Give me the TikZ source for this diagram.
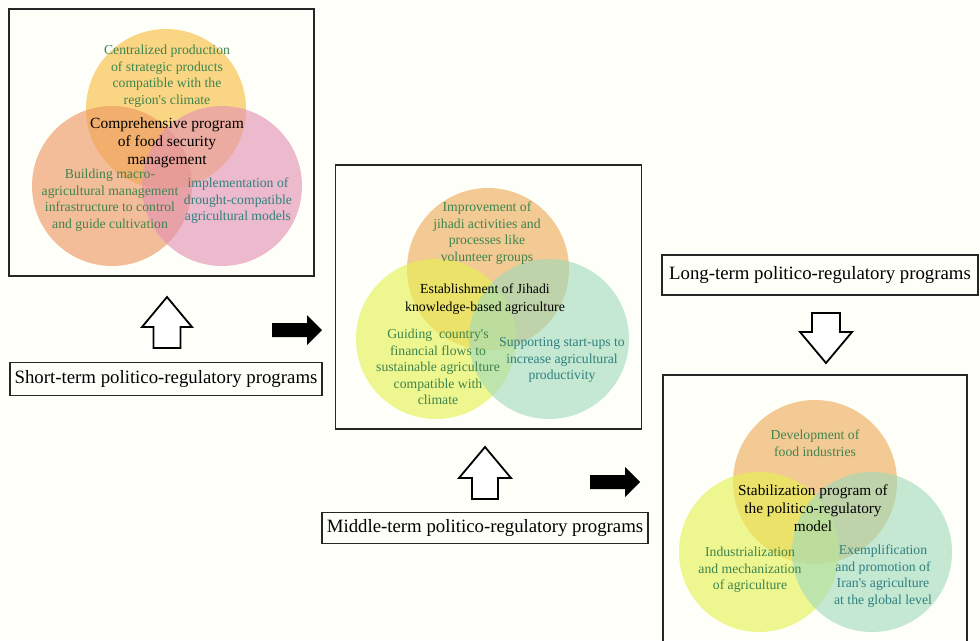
\documentclass[tikz,border=0pt]{standalone}
\usepackage{fontspec}
\setmainfont{Liberation Serif}
\newcommand{\apos}{\textquotesingle}
\begin{document}
\begin{tikzpicture}[x=1pt,y=-1pt,
  every node/.style={inner sep=0pt, outer sep=0pt},
  panelbox/.style={draw=black!85, line width=1.4pt},
  labelbox/.style={draw=black!85, line width=1.1pt, font=\fontsize{18.8}{22}\selectfont},
  venntext/.style={align=center, text=leafgreen, font=\fontsize{13.7}{16.5}\selectfont},
  venntealtext/.style={venntext, text=tealtext},
  corettext/.style={align=center, text=black, font=\fontsize{#1}{18}\selectfont},
  blob/.style={fill=#1, fill opacity=0.62},
  hollowarrow/.style={draw=black, line width=1.8pt, fill=white, line join=miter},
  solidarrow/.style={fill=black}
]
\definecolor{leafgreen}{RGB}{62,132,78}
\definecolor{tealtext}{RGB}{48,128,128}
\definecolor{sunyellow}{RGB}{247,190,60}
\definecolor{salmon}{RGB}{238,150,95}
\definecolor{rosepink}{RGB}{226,145,178}
\definecolor{peach}{RGB}{236,170,85}
\definecolor{limeyellow}{RGB}{229,242,80}
\definecolor{seafoam}{RGB}{160,218,186}

\useasboundingbox (0,0) rectangle (980,640);
\fill[white!98!yellow] (0,0) rectangle (980,640);

% ---- short-term panel ----
\node[panelbox, minimum width=305pt, minimum height=267pt] (shortpanel) at (161.5,142.5) {};
\fill[blob=sunyellow] (166,109) circle[radius=80pt];
\fill[blob=salmon] (112,186) circle[radius=80pt];
\fill[blob=rosepink] (222,186) circle[radius=80pt];
\node[venntext] (s1) at (167,76) {Centralized production\\of strategic products\\compatible with the\\region\apos s climate};
\node[corettext=15.5] (s0) at (167,143) {Comprehensive program\\of food security\\management};
\node[venntext] (s2) at (110,200) {Building macro-\\agricultural management\\infrastructure to control\\and guide cultivation};
\node[venntealtext] (s3) at (238,201) {implementation of\\drought-compatible\\agricultural models};

% ---- middle-term panel ----
\node[panelbox, minimum width=306pt, minimum height=264pt] (midpanel) at (488.5,297) {};
\fill[blob=peach] (488,269) circle[radius=81pt];
\fill[blob=limeyellow] (436,339) circle[radius=80pt];
\fill[blob=seafoam] (549,339) circle[radius=80pt];
\node[venntext] (m1) at (487,233) {Improvement of\\jihadi activities and\\processes like\\volunteer groups};
\node[corettext=13.8] (m0) at (485,299) {Establishment of Jihadi\\knowledge-based agriculture};
\node[venntext] (m2) at (438,367) {Guiding\ \ country\apos s\\financial flows to\\sustainable agriculture\\compatible with\\climate};
\node[venntealtext] (m3) at (562,360) {Supporting start-ups to\\increase agricultural\\productivity};

% ---- long-term panel (runs off the lower edge) ----
\coordinate (lpNW) at (663,375);
\coordinate (lpNE) at (967,375);
\draw[panelbox] (663,645) -- (lpNW) -- (lpNE) -- (967,645);
\fill[blob=peach] (815,482) circle[radius=82pt];
\fill[blob=limeyellow] (759,552) circle[radius=80pt];
\fill[blob=seafoam] (872,552) circle[radius=80pt];
\node[venntext] (l1) at (815,443) {Development of\\food industries};
\node[corettext=15.3] (l0) at (813,508) {Stabilization program of\\the politico-regulatory\\model};
\node[venntext] (l2) at (750,570) {Industrialization\\and mechanization\\of agriculture};
\node[venntealtext] (l3) at (883,576) {Exemplification\\and promotion of\\Iran\apos s agriculture\\at the global level};

% ---- program labels ----
\node[labelbox, minimum width=312pt, minimum height=33pt] (shortlabel) at (166,379) {Short-term politico-regulatory programs};
\node[labelbox, minimum width=326pt, minimum height=31pt] (midlabel) at (485,528) {Middle-term politico-regulatory programs};
\node[labelbox, minimum width=316pt, minimum height=40pt] (longlabel) at (820,275) {Long-term politico-regulatory programs};

% ---- hollow block arrows from labels to panels ----
\draw[hollowarrow] (167,297) -- (192,327) -- (180.5,327) -- (180.5,348) -- (153.5,348) -- (153.5,327) -- (142,327) -- cycle;
\draw[hollowarrow] (485,447) -- (511,478) -- (498,478) -- (498,499) -- (472,499) -- (472,478) -- (459,478) -- cycle;
\draw[hollowarrow] (826,363) -- (852,332) -- (840,332) -- (840,313) -- (812,313) -- (812,332) -- (800,332) -- cycle;

% ---- solid arrows between stages ----
\fill[solidarrow] (272,323) -- (307,323) -- (307,315) -- (322,330) -- (307,345) -- (307,337) -- (272,337) -- cycle;
\fill[solidarrow] (590,475) -- (625,475) -- (625,467) -- (640,482) -- (625,497) -- (625,489) -- (590,489) -- cycle;
\end{tikzpicture}
\end{document}
